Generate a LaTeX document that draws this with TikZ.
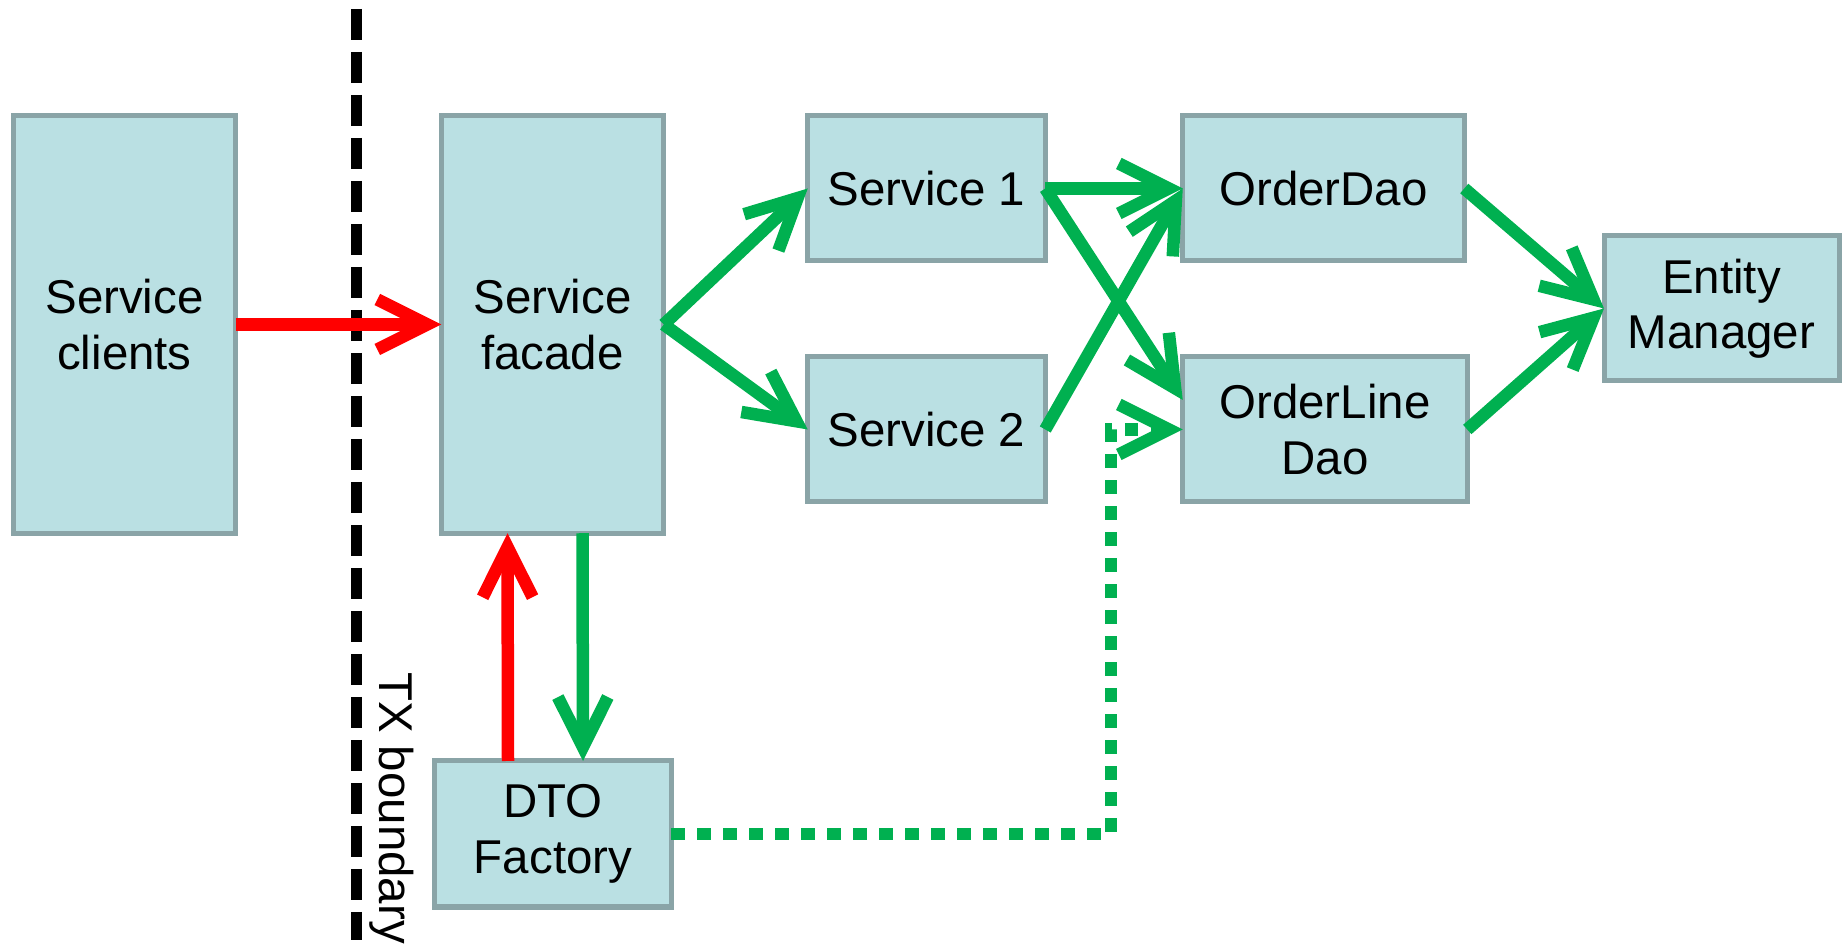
\documentclass[tikz,border=0pt]{standalone}
\usepackage{fontspec}
\setmainfont{Liberation Sans}
\usetikzlibrary{arrows.meta}
\definecolor{boxfill}{RGB}{186,224,227}
\definecolor{boxline}{RGB}{138,164,167}
\definecolor{flowgreen}{RGB}{0,176,80}
\definecolor{flowred}{RGB}{255,0,0}
\tikzstyle{block}=[rectangle,draw=boxline,fill=boxfill,line width=2.85pt,align=center,inner sep=0pt,outer sep=0pt,font=\fontsize{27}{31.5}\selectfont]
\tikzstyle{flow}=[->,line width=0.25cm]

\begin{document}
\begin{tikzpicture}[>={Straight Barb[length=1cm,width=1cm]}]
\useasboundingbox (0,0) rectangle (36.86,18.94);
\node[block,minimum width=4.45cm,minimum height=8.35cm] at (2.49,12.45) (clients) {Service\\clients};
\node[block,minimum width=4.45cm,minimum height=8.35cm] at (11.05,12.45) (facade) {Service\\facade};
\node[block,minimum width=4.75cm,minimum height=2.9cm] at (18.53,15.17) (s1) {Service 1};
\node[block,minimum width=4.75cm,minimum height=2.9cm] at (18.53,10.35) (s2) {Service 2};
\node[block,minimum width=5.63cm,minimum height=2.9cm] at (26.47,15.17) (od) {OrderDao};
\node[block,minimum width=5.69cm,minimum height=2.9cm] at (26.5,10.35) (old) {OrderLine\\Dao};
\node[block,minimum width=4.7cm,minimum height=2.9cm] at (34.43,12.77) (em) {Entity\\Manager};
\node[block,minimum width=4.73cm,minimum height=2.92cm] at (11.06,2.26) (dto) {DTO\\Factory};
% transaction boundary
\coordinate (txtop) at (7.12,18.76);
\coordinate (txbot) at (7.12,0.14);
\draw[line width=0.22cm, dash pattern=on 0.62cm off 0.24cm] (txtop) -- (txbot);
\node[rotate=-90,anchor=base,font=\fontsize{27}{31}\selectfont] at (7.58,2.78) (txlabel) {TX boundary};
% calls
\draw[flow, flowred] (clients) -- (facade);
\draw[flow, flowgreen] (facade.east) -- (s1.west);
\draw[flow, flowgreen] (facade.east) -- (s2.west);
\draw[flow, flowgreen] (s1.east) -- (od.west);
\draw[flow, flowgreen] (s1.east) -- ([yshift=0.59cm]old.west);
\draw[flow, flowgreen] (s2.east) -- (od.west);
\draw[flow, flowgreen] (od.east) -- (em.west);
\draw[flow, flowgreen] (old.east) -- (em.west);
\draw[flow, flowgreen] ([xshift=0.6cm]facade.south) -- ([xshift=0.6cm]dto.north);
\draw[flow, flowred] ([xshift=-0.9cm]dto.north) -- ([xshift=-0.9cm]facade.south);
% dto factory uses the dao
\coordinate (bend) at (22.22,2.26);
\draw[flow, flowgreen, dash pattern=on 0.27cm off 0.25cm] (dto.east) -- (bend) |- (old.west);
\end{tikzpicture}
\end{document}
